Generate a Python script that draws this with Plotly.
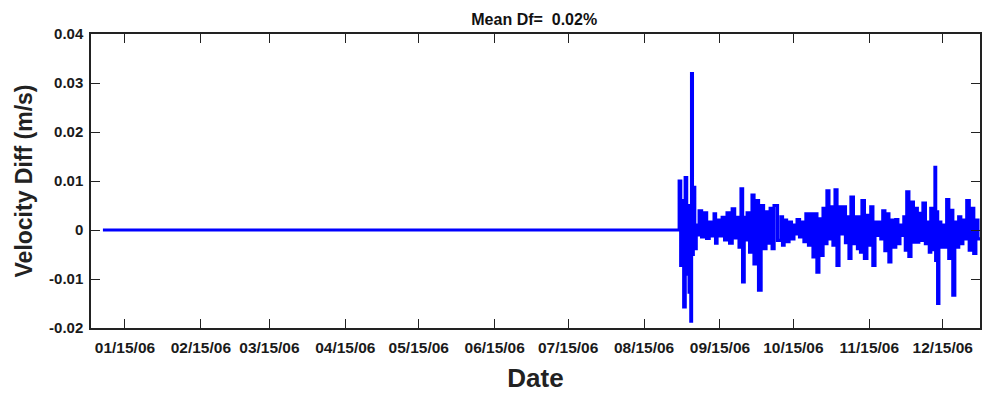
import pandas as pd
import plotly.graph_objects as go

# ---- data ----
year_start = "2006-01-01"
# flat (zero difference) part: day-of-year offsets from Jan 1
flat_days = [5.0, 240.35]
flat_vals = [0.0, 0.0]

# noisy part: block start (days from Jan 1), upper and lower values
noise_day = [240.35, 241.6, 242.8, 244.0, 244.8, 245.4, 246.1, 247.3, 248.5, 250.5,
             252.6, 254.6, 255.8, 257.9, 259.9, 262.0, 264.0, 265.6, 266.9, 268.1,
             270.1, 271.7, 273.8, 275.8, 277.5, 279.1, 281.9, 283.2, 285.2, 287.2,
             288.5, 290.5, 292.1, 294.2, 295.8, 297.4, 299.1, 300.7, 302.3, 304.0,
             305.6, 307.6, 308.9, 310.5, 312.5, 313.8, 315.0, 317.0, 318.6, 320.3,
             321.9, 323.5, 325.2, 326.8, 328.8, 330.5, 332.1, 333.3, 335.0, 337.0,
             338.2, 339.9, 341.9, 343.1, 344.8, 345.4, 346.4, 348.0, 349.6, 351.3,
             352.9, 354.5, 356.2, 357.8, 359.8, 361.5]
noise_high = [0.0100, 0.0060, 0.0107, 0.0050, 0.0040, 0.0319, 0.0087, 0.0010, 0.0039, 0.0035,
              0.0016, 0.0033, 0.0020, 0.0026, 0.0035, 0.0043, 0.0026, 0.0084, 0.0026, 0.0035,
              0.0071, 0.0060, 0.0050, 0.0037, 0.0044, 0.0050, 0.0027, 0.0020, 0.0016, 0.0010,
              0.0021, 0.0016, 0.0033, 0.0033, 0.0033, 0.0023, 0.0044, 0.0080, 0.0047, 0.0082,
              0.0047, 0.0047, 0.0027, 0.0067, 0.0027, 0.0027, 0.0060, 0.0030, 0.0047, 0.0016,
              0.0016, 0.0039, 0.0033, 0.0020, 0.0021, 0.0010, 0.0027, 0.0078, 0.0057, 0.0044,
              0.0034, 0.0055, 0.0016, 0.0044, 0.0128, 0.0037, 0.0016, 0.0010, 0.0062, 0.0040,
              0.0016, 0.0027, 0.0020, 0.0060, 0.0044, 0.0020]
noise_low = [-0.0072, -0.0157, -0.0090, -0.0127, -0.0186, -0.0050, -0.0038, -0.0010, -0.0014, -0.0017,
             -0.0012, -0.0027, -0.0012, -0.0020, -0.0027, -0.0016, -0.0035, -0.0106, -0.0020, -0.0045,
             -0.0069, -0.0123, -0.0038, -0.0027, -0.0038, -0.0021, -0.0031, -0.0024, -0.0018, -0.0008,
             -0.0014, -0.0024, -0.0031, -0.0055, -0.0086, -0.0052, -0.0028, -0.0018, -0.0031, -0.0072,
             -0.0008, -0.0026, -0.0058, -0.0028, -0.0038, -0.0045, -0.0058, -0.0031, -0.0072, -0.0011,
             -0.0018, -0.0042, -0.0065, -0.0035, -0.0028, -0.0011, -0.0041, -0.0054, -0.0025, -0.0025,
             -0.0021, -0.0028, -0.0045, -0.0040, -0.0062, -0.0150, -0.0035, -0.0035, -0.0058, -0.0133,
             -0.0035, -0.0028, -0.0018, -0.0041, -0.0048, -0.0018]
last_day = 363.2

x_tick_dates = ["2006-01-15", "2006-02-15", "2006-03-15", "2006-04-15", "2006-05-15", "2006-06-15",
                "2006-07-15", "2006-08-15", "2006-09-15", "2006-10-15", "2006-11-15", "2006-12-15"]
x_tick_labels = ["01/15/06", "02/15/06", "03/15/06", "04/15/06", "05/15/06", "06/15/06",
                 "07/15/06", "08/15/06", "09/15/06", "10/15/06", "11/15/06", "12/15/06"]
y_tick_vals = [-0.02, -0.01, 0, 0.01, 0.02, 0.03, 0.04]
y_tick_labels = ["-0.02", "-0.01", "0", "0.01", "0.02", "0.03", "0.04"]
x_range_days = [0.13, 363.2]
title_text = "Mean Df=\u00a0 0.02%"

# ---- build the drawn series ----
base = pd.Timestamp(year_start)
def to_date(d):
    return base + pd.to_timedelta(d, unit="D")

xs, ys = [], []
for d, v in zip(flat_days, flat_vals):
    xs.append(to_date(d)); ys.append(v)
bounds = noise_day + [last_day]
for i in range(len(noise_day)):
    d0, d1 = bounds[i], bounds[i + 1]
    xs.append(to_date(d0)); ys.append(noise_high[i])
    xs.append(to_date((d0 + d1) / 2)); ys.append(noise_low[i])
xs.append(to_date(last_day)); ys.append(noise_low[-1])

font_family = "Liberation Sans, Arial, sans-serif"
fig = go.Figure()
fig.add_trace(go.Scatter(x=xs, y=ys, mode="lines", line=dict(color="#0000ff", width=3.2, shape="hv"),
                         showlegend=False, hoverinfo="skip"))

fig.update_layout(
    width=982, height=396,
    margin=dict(l=91, r=2, t=34, b=68, autoexpand=False),
    paper_bgcolor="white", plot_bgcolor="white",
    font=dict(family=font_family, color="#1a1a1a"),
    title=dict(text="<b>" + title_text + "</b>", x=0.544, xanchor="center", y=0.951, yanchor="middle",
               font=dict(size=16, family=font_family, color="#111")),
    xaxis=dict(
        range=[to_date(x_range_days[0]), to_date(x_range_days[1])],
        tickmode="array", tickvals=[pd.Timestamp(t) for t in x_tick_dates],
        ticktext=["<b>" + t + "</b>" for t in x_tick_labels],
        ticks="inside", ticklen=9, tickwidth=1.3, tickcolor="#222",
        showline=True, linecolor="#222", linewidth=1.5, mirror="ticks",
        showgrid=False, zeroline=False, automargin=False,
        tickfont=dict(size=15.5, family=font_family, color="#1a1a1a"),
        ticklabelstandoff=5,
        title=dict(text="<b>Date</b>", font=dict(size=26, family=font_family, color="#222"), standoff=13),
    ),
    yaxis=dict(
        range=[-0.02, 0.04],
        tickmode="array", tickvals=y_tick_vals,
        ticktext=["<b>" + t + "</b>" for t in y_tick_labels],
        ticks="inside", ticklen=9, tickwidth=1.3, tickcolor="#222",
        showline=True, linecolor="#222", linewidth=1.5, mirror="ticks",
        showgrid=False, zeroline=False, automargin=False,
        tickfont=dict(size=15, family=font_family, color="#1a1a1a"),
        ticklabelstandoff=3,
        title=dict(text="<b>Velocity Diff (m/s)</b>", font=dict(size=23, family=font_family, color="#222"),
                   standoff=10),
    ),
)

# remove the default page margin so the figure fills the window exactly
fig.write_html("out.html", config={"displayModeBar": False},
               post_script="document.body.style.margin='0';document.body.style.overflow='hidden';")
